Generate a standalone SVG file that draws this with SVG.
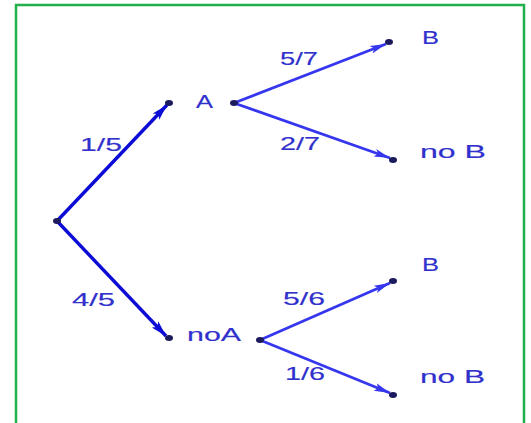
<svg xmlns="http://www.w3.org/2000/svg" width="531" height="423" viewBox="0 0 531 423">
<style>
.lbl{font-family:"Liberation Sans",Arial,sans-serif;font-size:18px;fill:#3030cc;stroke:#3030cc;stroke-width:0.15;}
.main{stroke:#0c0cd6;stroke-width:3.4;fill:none;}
.sub{stroke:#3636ee;stroke-width:2.8;fill:none;}
.dot{fill:#1a1a5c;}
</style>
<defs>
<marker id="ahMain" markerUnits="userSpaceOnUse" markerWidth="17" markerHeight="12" refX="16" refY="6" orient="auto">
<path d="M0,1.5 L16,6 L0,10.5 L3.5,6 Z" fill="#0c0cd6"/>
</marker>
<marker id="ahSub" markerUnits="userSpaceOnUse" markerWidth="17" markerHeight="12" refX="16" refY="6" orient="auto">
<path d="M0,2 L16,6 L0,10 L3.5,6 Z" fill="#3636ee"/>
</marker>
</defs>
<rect x="16" y="5" width="508" height="440" fill="#ffffff" stroke="#22b04c" stroke-width="2.5"/>
<g id="connectors">
<line class="main" x1="57" y1="221" x2="167" y2="105" marker-end="url(#ahMain)"/>
<line class="main" x1="57" y1="221" x2="166" y2="336" marker-end="url(#ahMain)"/>
<line class="sub" x1="234" y1="103" x2="386" y2="44" marker-end="url(#ahSub)"/>
<line class="sub" x1="234" y1="103" x2="390" y2="158" marker-end="url(#ahSub)"/>
<line class="sub" x1="260" y1="340" x2="390" y2="283" marker-end="url(#ahSub)"/>
<line class="sub" x1="260" y1="340" x2="390" y2="393" marker-end="url(#ahSub)"/>
<text class="lbl" x="80" y="151" textLength="42" lengthAdjust="spacingAndGlyphs">1/5</text>
<text class="lbl" x="72" y="306" textLength="43" lengthAdjust="spacingAndGlyphs">4/5</text>
<text class="lbl" x="280" y="65" textLength="38" lengthAdjust="spacingAndGlyphs">5/7</text>
<text class="lbl" x="280" y="150" textLength="40" lengthAdjust="spacingAndGlyphs">2/7</text>
<text class="lbl" x="283" y="305" textLength="42" lengthAdjust="spacingAndGlyphs">5/6</text>
<text class="lbl" x="285" y="380" textLength="40" lengthAdjust="spacingAndGlyphs">1/6</text>
</g>
<g id="root"><ellipse class="dot" cx="57" cy="221" rx="4" ry="3"/></g>
<g id="nodeA">
<ellipse class="dot" cx="169" cy="103" rx="4" ry="3"/>
<text class="lbl" x="196" y="108" textLength="17" lengthAdjust="spacingAndGlyphs">A</text>
<ellipse class="dot" cx="234" cy="103" rx="4" ry="3"/>
</g>
<g id="nodeAB">
<ellipse class="dot" cx="389" cy="42" rx="4" ry="3"/>
<text class="lbl" x="422" y="44" textLength="17" lengthAdjust="spacingAndGlyphs">B</text>
</g>
<g id="nodeAnoB">
<ellipse class="dot" cx="393" cy="160" rx="4" ry="3"/>
<text class="lbl" x="420" y="158" textLength="66" lengthAdjust="spacingAndGlyphs">no B</text>
</g>
<g id="nodeNoA">
<ellipse class="dot" cx="169" cy="338" rx="4" ry="3"/>
<text class="lbl" x="187" y="341" textLength="54" lengthAdjust="spacingAndGlyphs">noA</text>
<ellipse class="dot" cx="260" cy="340" rx="4" ry="3"/>
</g>
<g id="nodeNoAB">
<ellipse class="dot" cx="393" cy="281" rx="4" ry="3"/>
<text class="lbl" x="422" y="271" textLength="17" lengthAdjust="spacingAndGlyphs">B</text>
</g>
<g id="nodeNoAnoB">
<ellipse class="dot" cx="393" cy="395" rx="4" ry="3"/>
<text class="lbl" x="420" y="383" textLength="65" lengthAdjust="spacingAndGlyphs">no B</text>
</g>
</svg>
